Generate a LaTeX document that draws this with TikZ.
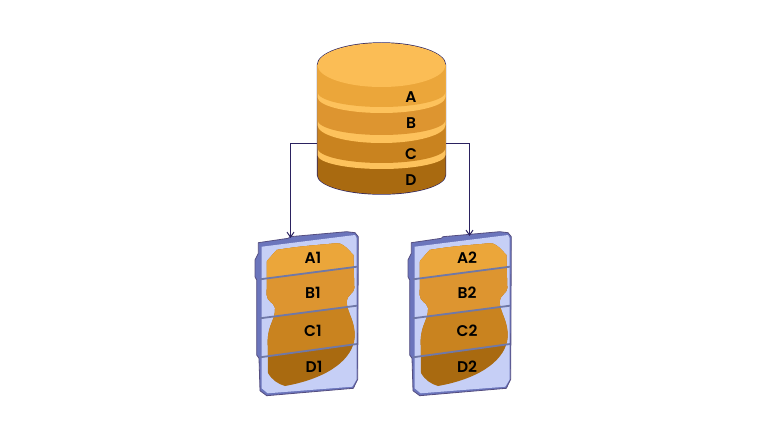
\documentclass[tikz,border=0pt]{standalone}
\usepackage{fontspec}
\setmainfont{Poppins}[BoldFont=Poppins SemiBold]
\usetikzlibrary{arrows.meta}
\definecolor{tierA}{HTML}{EBA63A}
\definecolor{tierB}{HTML}{DD9530}
\definecolor{tierC}{HTML}{C9831F}
\definecolor{tierD}{HTML}{A96A10}
\definecolor{tierTop}{HTML}{FBBD55}
\definecolor{tierBand}{HTML}{FDC25C}
\definecolor{edgeInk}{HTML}{2B2260}
\definecolor{diskBody}{HTML}{C6CFF6}
\definecolor{diskEdge}{HTML}{6B75BC}
\definecolor{diskLine}{HTML}{6F78A8}
\tikzset{
	lbl/.style={font=\bfseries\fontsize{15.5}{17}\selectfont, text=black, inner sep=0pt},
	link/.style={edgeInk, line width=1pt, -{Straight Barb[length=5pt,width=7pt]}},
	sepline/.style={diskLine, line width=1.8pt},
}
% one layer of the cylinder, seen from the lower edge upwards
\newcommand{\dblayer}[3]{
	\fill[#3] (317.5,-#1) arc[start angle=180, end angle=360, x radius=64, y radius=#2] -- (445.5,-65) -- (317.5,-65) -- cycle;
}
% disk drawn at its first position, shifted by the scope
\newcommand{\drawdisk}{
	\draw[fill=diskEdge, draw=edgeInk!80, line width=0.8pt, line join=round] (258.3,-242.7) -- (288.3,-238.3) -- (290,-236.7) -- (346.7,-231.7) -- (355,-232.7) -- (358.3,-236.7) -- (357.7,-379.3) -- (353.3,-388.3) -- (266.7,-395.7) -- (260,-390.7) -- (259,-358.3) -- (256.7,-355) -- (256.7,-280) -- (255,-276.7) -- (255,-260) -- (258.3,-253.3) -- cycle;
	\fill[diskBody] (261.7,-246.7) -- (355,-235) -- (356.7,-238.3) -- (356.7,-379.3) -- (352.3,-386.7) -- (267.7,-393.3) -- (261.7,-388.3) -- cycle;
	\begin{scope}
		\clip (267,-261) -- (276.7,-250) .. controls (300,-246) and (320,-245) .. (336,-243.3) .. controls (342,-243) and (345,-246) .. (353.3,-255) -- (354.3,-288) .. controls (354,-294) and (347,-294) .. (346.7,-302) .. controls (346.7,-312) and (356,-322) .. (354.5,-338) .. controls (353,-358) and (330,-378) .. (285,-386) .. controls (278,-384) and (272,-380) .. (268,-373) -- (267.7,-340) .. controls (268,-325) and (276,-318) .. (275,-308) .. controls (274,-302) and (267,-302) .. (266.7,-295) -- cycle;
		\fill[tierD] (250,-230) rectangle (365,-400);
		\fill[tierC] (250,-230) -- (365,-230) -- (365,-343) -- (250,-358.6) -- cycle;
		\fill[tierB] (250,-230) -- (365,-230) -- (365,-304.6) -- (250,-319.6) -- cycle;
		\fill[tierA] (250,-230) -- (365,-230) -- (365,-265.6) -- (250,-280.6) -- cycle;
	\end{scope}
	\draw[sepline] (260,-279.3) -- (357,-266.7);
	\draw[sepline] (260,-318.3) -- (357,-305.7);
	\draw[sepline] (260,-357.3) -- (357,-344);
}
\begin{document}
\begin{tikzpicture}[x=1pt, y=1pt]
	\useasboundingbox (0,-422) rectangle (760,0);
	
	% cylinder
	\fill[edgeInk] (316.8,-175) arc[start angle=180, end angle=360, x radius=64.7, y radius=19.7] -- (446.2,-65) arc[start angle=0, end angle=180, x radius=64.7, y radius=22.7] -- cycle;
	\dblayer{175}{19}{tierD}
	\dblayer{155}{14}{tierBand}
	\dblayer{148}{15}{tierC}
	\dblayer{125}{18}{tierBand}
	\dblayer{120}{15}{tierB}
	\dblayer{97}{16}{tierBand}
	\dblayer{92}{15}{tierA}
	\fill[tierTop] (381.5,-65) ellipse[x radius=64, y radius=22];
	
	\node[lbl] (labelA) at (411,-97) {A};
	\node[lbl] (labelB) at (411,-123) {B};
	\node[lbl] (labelC) at (411,-154) {C};
	\node[lbl] (labelD) at (411,-180) {D};
	
	% disk 1
	\drawdisk
	\node[lbl] (labelA1) at (313,-258) {A1};
	\node[lbl] (labelB1) at (313,-293) {B1};
	\node[lbl] (labelC1) at (313,-331) {C1};
	\node[lbl] (labelD1) at (314,-367) {D1};
	
	% disk 2
	\begin{scope}[xshift=153pt]
		\drawdisk
	\end{scope}
	\node[lbl] (labelA2) at (467,-258) {A2};
	\node[lbl] (labelB2) at (467,-293) {B2};
	\node[lbl] (labelC2) at (467,-331) {C2};
	\node[lbl] (labelD2) at (467,-367) {D2};
	
	% connectors
	\coordinate (dbLeft) at (317,-144);
	\coordinate (dbRight) at (446,-144);
	\coordinate (diskTopA) at (290.5,-238);
	\coordinate (diskTopB) at (469.5,-236);
	\draw[link] (dbLeft) -| (diskTopA);
	\draw[link] (dbRight) -| (diskTopB);
\end{tikzpicture}
\end{document}
